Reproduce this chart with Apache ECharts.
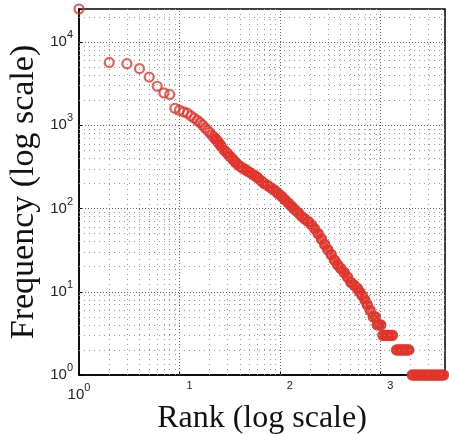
<!DOCTYPE html>
<html><head><meta charset="utf-8">
<script src="https://cdn.jsdelivr.net/npm/echarts@6/dist/echarts.min.js"></script>
<style>html,body{margin:0;padding:0;background:#fff}#c{width:449px;height:434px}</style>
</head><body><div id="c"></div>
<script>
// Rank (x) and frequency (y)
const ranks = [1,2,3,4,5,6,7,8,9,10,11,12,13,14,15,16,17,18,19,20,21,22,23,24,25,26,28,30,32,34,36,39,42,45,48,52,56,60,65,70,76,82,89,96,104,112,121,131,141,152,164,177,191,206,222,240,259,279,300,324,349,376,405,437,471,508,548,590,620,660,700,740,790,850,890,930,970,1010,1060,1110,1160,1210,1260,1320,1450,1520,1590,1670,1750,1830,1920,2080,2180,2290,2400,2520,2640,2770,2900,3040,3190,3350,3510,3680,3860,4050,4250,4400];
const freqs = [25000,5700,5500,4800,3800,2950,2450,2350,1600,1520,1450,1400,1300,1220,1150,1080,1010,930,870,820,760,720,680,640,600,560,500,460,420,390,360,330,310,295,280,265,250,235,215,200,188,176,165,152,140,128,117,106,97,89,81,75,70,64,57,50,43,37,32,28,24,21,19,17,15,13,12,11,10,9,8,7,6,5,5,4,4,4,3,3,3,3,3,3,2,2,2,2,2,2,2,1,1,1,1,1,1,1,1,1,1,1,1,1,1,1,1];
const xTickExponents = ['0','1','2','3'];
const yTickExponents = ['0','1','2','3','4'];
const xName = 'Rank (log scale)';
const yName = 'Frequency (log scale)';
const xMax = 4400, yMax = 25000;
const bandStartRank = 22;
const gridDecadesX = [1,10,100,1000];
const gridDecadesY = [1,10,100,1000,10000];
const gridMultipliers = [1,2,3,4,5,6,7,8,9];

const red = '#e5332a';
const points = ranks.map((r,i)=>[r,freqs[i]]);
const bandPoints = [];
ranks.forEach((r,i)=>{ if(r>=bandStartRank) bandPoints.push([r,freqs[i]]); });

function expOf(v){ const e=Math.round(Math.log10(v)); return Math.abs(Math.pow(10,e)-v)/v<1e-6 ? e : null; }

const gridLines = [];
gridDecadesX.forEach(d=>gridMultipliers.forEach(m=>{
  const v=d*m; if(v>1 && v<xMax) gridLines.push({xAxis:v, lineStyle:{color: m===1?'#666':'#9a9a9a', type: m===1?[1,2]:[1,4], width:1}});
}));
gridDecadesY.forEach(d=>gridMultipliers.forEach(m=>{
  const v=d*m; if(v>1 && v<yMax) gridLines.push({yAxis:v, lineStyle:{color: m===1?'#666':'#9a9a9a', type: m===1?[1,2]:[1,4], width:1}});
}));

const chart = echarts.init(document.getElementById('c'), null, {renderer:'canvas'});
chart.setOption({
  animation:false,
  grid:{left:79, top:9, right:4, bottom:59, outerBoundsMode:'none', containLabel:false, show:true, borderColor:'#000', borderWidth:1.5, backgroundColor:'rgba(0,0,0,0)'},
  xAxis:{
    type:'log', logBase:10, min:1, max:xMax,
    axisLine:{show:true, lineStyle:{color:'#000', width:1.5}},
    axisTick:{show:true, inside:true, length:4, lineStyle:{color:'#000'}},
    splitLine:{show:false},
    axisLabel:{
      margin:12,
      formatter:function(v){ const e=expOf(v); if(e===null) return ''; const s=xTickExponents[e]; if(s===undefined) return ''; return e===0 ? '{b|10}{e|'+s+'}' : '{e2|'+s+'}'; },
      rich:{
        b:{fontSize:15, lineHeight:15, fontFamily:'Liberation Sans', color:'#222'},
        e:{fontSize:11, lineHeight:11, fontFamily:'Liberation Sans', color:'#222', padding:[0,0,14,0]},
        e2:{fontSize:11, lineHeight:11, fontFamily:'Liberation Sans', color:'#222', padding:[0,0,14,20]}
      }
    },
    name:xName, nameLocation:'middle', nameGap:28, nameMoveOverlap:false,
    nameTextStyle:{fontFamily:'Liberation Serif', fontSize:32, color:'#111'}
  },
  yAxis:{
    type:'log', logBase:10, min:1, max:yMax,
    axisLine:{show:true, lineStyle:{color:'#000', width:1.5}},
    axisTick:{show:true, inside:true, length:4, lineStyle:{color:'#000'}},
    splitLine:{show:false},
    axisLabel:{
      margin:6,
      formatter:function(v){ const e=expOf(v); if(e===null) return ''; const s=yTickExponents[e]; if(s===undefined) return ''; return '{b|10}{e|'+s+'}'; },
      rich:{
        b:{fontSize:15, lineHeight:15, fontFamily:'Liberation Sans', color:'#222'},
        e:{fontSize:11, lineHeight:11, fontFamily:'Liberation Sans', color:'#222', padding:[0,0,14,0]}
      }
    },
    name:yName, nameLocation:'middle', nameGap:38, nameMoveOverlap:false,
    nameTextStyle:{fontFamily:'Liberation Serif', fontSize:34, color:'#111'}
  },
  series:[
    {type:'scatter', data:[], z:1, silent:true,
     markLine:{silent:true, symbol:['none','none'], label:{show:false}, animation:false, data:gridLines}},
    {type:'scatter', data:points, symbol:'circle', symbolSize:9,
     itemStyle:{color:'none', borderColor:red, borderWidth:2.2}},
    {type:'scatter', data:bandPoints, symbolSize:11, itemStyle:{color:red}}
  ]
});
</script></body></html>
